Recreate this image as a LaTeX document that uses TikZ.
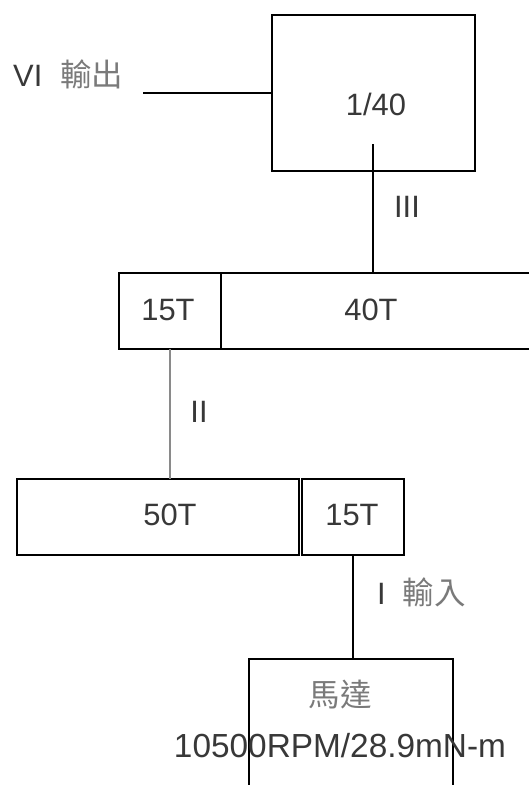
\documentclass[tikz,border=0pt]{standalone}
\usepackage{fontspec}
\setmainfont{Liberation Sans}
\newfontfamily\cjk{Noto Sans CJK TC}[Scale=1.02]
\definecolor{txt}{HTML}{383838}
\definecolor{cjktxt}{HTML}{7A7A7A}
\definecolor{lgray}{HTML}{8A8A8A}
\begin{document}
\begin{tikzpicture}[x=1bp,y=1bp,
  box/.style={draw=black, line width=1.3bp, inner sep=0pt, outer sep=0pt},
  lbl/.style={inner sep=0pt, text=txt, font=\fontsize{31}{36}\selectfont},
  big/.style={inner sep=0pt, text=txt, font=\fontsize{33.5}{40}\selectfont},
  wire/.style={draw=black, line width=1.3bp},
  gwire/.style={draw=lgray, line width=1.2bp}]
\useasboundingbox (0,0) rectangle (529,-785);
\clip (0,0) rectangle (529,-785);
\fill[white] (0,0) rectangle (529,-785);
% boxes
\node[box, minimum width=203bp, minimum height=156bp] (top) at (373.5,-93) {};
\node[box, minimum width=102bp, minimum height=76bp] (ga) at (170,-311) {};
\node[box, minimum width=339bp, minimum height=76bp, anchor=west] (gb) at (221,-311) {};
\node[box, minimum width=282bp, minimum height=76bp] (gc) at (158,-517) {};
\node[box, minimum width=102bp, minimum height=76bp] (gd) at (353,-517) {};
\node[box, minimum width=204bp, minimum height=170bp, anchor=north] (motor) at (351,-659) {};
% texts
\node[lbl] (t140) at (376,-104) {1/40};
\node[lbl, anchor=base west] (tout) at (13,-86) {VI\hspace{18bp}{\cjk\color{cjktxt}輸出}};
\node[lbl] (tIII) at (407,-207) {III};
\node[lbl] (tga) at (168,-310) {15T};
\node[lbl] (tgb) at (371,-310) {40T};
\node[lbl] (tII) at (199,-412) {II};
\node[lbl] (tgc) at (170,-515) {50T};
\node[lbl] (tgd) at (352,-515) {15T};
\node[lbl, anchor=base west] (tin) at (377,-604) {I\hspace{17bp}{\cjk\color{cjktxt}輸入}};
\node[lbl] (tmotor) at (340,-695) {\cjk\color{cjktxt}馬達};
\node[big] (tspec) at (340,-746) {10500RPM/28.9mN-m};
% connectors
\coordinate (outend) at (143,-93);
\coordinate (IIIstart) at (373,-144);
\draw[wire] (outend) -- (top.west);
\draw[wire] (IIIstart) -- (IIIstart |- gb.north);
\draw[gwire] (ga.south) -- (ga.south |- gc.north);
\draw[wire] (gd.south) -- (gd.south |- motor.north);
\end{tikzpicture}
\end{document}
